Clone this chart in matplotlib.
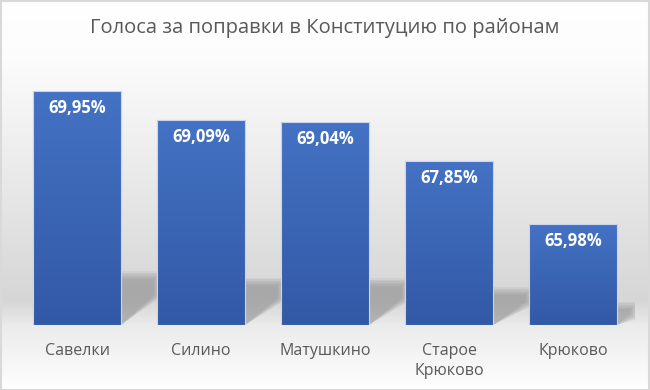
import numpy as np
import matplotlib
matplotlib.use("Agg")
import matplotlib.pyplot as plt
from matplotlib.colors import LinearSegmentedColormap, to_rgb
from matplotlib.patches import Polygon, Rectangle

categories = ["Савелки", "Силино", "Матушкино", "Старое\nКрюково", "Крюково"]
values = [69.95, 69.09, 69.04, 67.85, 65.98]
labels = ["69,95%", "69,09%", "69,04%", "67,85%", "65,98%"]
title = "Голоса за поправки в Конституцию по районам"

plt.rcParams['font.family'] = ['Open Sans', 'DejaVu Sans']

W, H = 650, 390
fig = plt.figure(figsize=(6.5, 3.9), dpi=100)

# background gradient (figure-wide)
bg = fig.add_axes([0, 0, 1, 1])
bg.set_axis_off()
stops_px = [0, 60, 300, 325, 390]
stops_col = ["#ffffff", "#fcfcfc", "#d6d6d6", "#ebebeb", "#ffffff"]
ys = np.arange(H)
rgb = np.array([to_rgb(c) for c in stops_col])
grad = np.stack([np.interp(ys, stops_px, rgb[:, k]) for k in range(3)], axis=-1)
img = np.repeat(grad[:, None, :], 2, axis=1)
bg.imshow(img, extent=[0, 1, 0, 1], aspect='auto', origin='upper')
bg.set_xlim(0, 1); bg.set_ylim(0, 1)
# frame
bg.add_patch(Rectangle((0.5 / W, 0.5 / H), 1 - 1.5 / W, 1 - 1.5 / H,
                       fill=False, edgecolor="#d9d9d9", lw=1.5))

# main axes placement
px_per_cat = 124.1
left_px = 77 - 0.5 * px_per_cat
bottom_px = 325
ymin, ymax = 62.95, 70.5
px_per_val = 33.4
ax_h = (ymax - ymin) * px_per_val
ax = fig.add_axes([left_px / W, (H - bottom_px) / H, 5 * px_per_cat / W, ax_h / H])
ax.set_xlim(-0.5, 4.5)
ax.set_ylim(ymin, ymax)
ax.set_axis_off()
ax.patch.set_alpha(0)

x = np.arange(len(categories))
bw = 0.71
bars = ax.bar(x, [v - ymin for v in values], bottom=ymin, width=bw,
              color="#3f6bbb", edgecolor="#c9d6ee", linewidth=0.8, zorder=3)

# soft shadows behind bars
dx = 1 / px_per_cat
dy = 1 / px_per_val
for b in bars:
    r = b.get_x() + b.get_width()
    h_px = b.get_height() / dy
    sh = 0.23 * h_px
    L = min(0.2 * h_px, 36) if h_px < 150 else 40
    slope = 0.003 * h_px
    for k in range(6):
        off = k * 1.5
        poly = [(r, ymin),
                (r, ymin + (sh - off) * dy),
                (r + (L - off) * dx, ymin + (sh - off) * dy),
                (r + (L - off) * dx, ymin + ((L - off) * slope + off) * dy)]
        ax.add_patch(Polygon(poly, closed=True, facecolor="#7a7a7a", alpha=0.1,
                             edgecolor='none', zorder=1))

# gradient fill of bars
cmap = LinearSegmentedColormap.from_list("bar", ["#3259a6", "#4472c4"])
gimg = np.linspace(0, 1, 256)[:, None]
for b in bars:
    im = ax.imshow(gimg, cmap=cmap, origin='lower', aspect='auto',
                   extent=[b.get_x(), b.get_x() + b.get_width(), ymin, b.get_y() + b.get_height()],
                   zorder=3.5)
    im.set_clip_path(b)
    ax.add_patch(Rectangle((b.get_x(), b.get_y()), b.get_width(), b.get_height(),
                           fill=False, edgecolor="#c9d6ee", lw=0.8, zorder=4))

ax.set_xlim(-0.5, 4.5)
ax.set_ylim(ymin, ymax)

for xi, v, lab in zip(x, values, labels):
    ax.annotate(lab, (xi, v), xytext=(0, -17), textcoords='offset pixels',
                ha='center', va='center', color='white', fontsize=12,
                fontweight='bold', zorder=6)

for xi, c in zip(x, categories):
    ax.annotate(c, (xi, ymin), xytext=(0, -18), textcoords='offset pixels',
                ha='center', va='top', color='#595959', fontsize=11.5,
                linespacing=1.3, annotation_clip=False)

fig.text(0.5, 1 - 28 / H, title, ha='center', va='center', color='#595959', fontsize=14.5)

fig.savefig("out.png", dpi=100)
